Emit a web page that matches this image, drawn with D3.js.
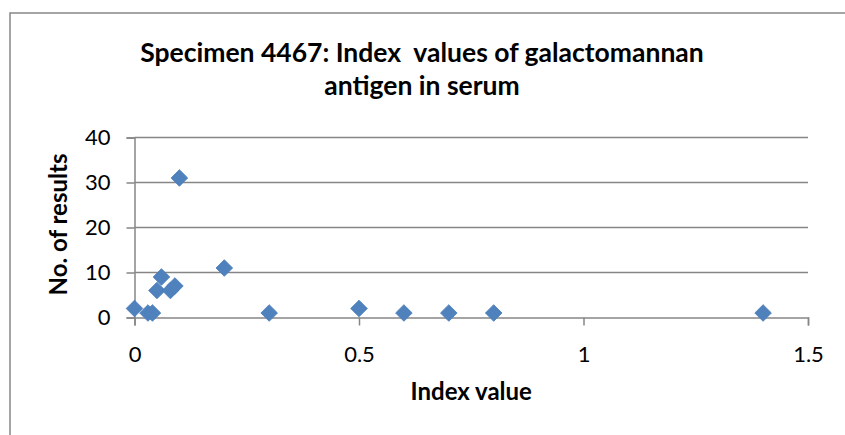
<!DOCTYPE html>
<html>
<head>
<meta charset="utf-8">
<script src="https://cdn.jsdelivr.net/npm/d3@7"></script>
<style>
  body { margin: 0; background: #fff; }
  text { font-family: Lato, "Open Sans", sans-serif; fill: #000; }
</style>
</head>
<body>
<div id="chart"></div>
<script>
// Index value (x) and number of results (y)
const indexValues = [0, 0.03, 0.04, 0.05, 0.06, 0.08, 0.09, 0.1, 0.2, 0.3, 0.5, 0.6, 0.7, 0.8, 1.4];
const resultCounts = [2, 1, 1, 6, 9, 6, 7, 31, 11, 1, 2, 1, 1, 1, 1];
const xTicks = [0, 0.5, 1, 1.5];
const yTicks = [0, 10, 20, 30, 40];
const titleLines = ["Specimen 4467: Index  values of galactomannan", "antigen in serum"];

const W = 845, H = 435;
const margin = { top: 137.5, right: 37, bottom: 117.5, left: 134.5 },
      width = W - margin.left - margin.right,
      height = H - margin.top - margin.bottom;

const data = indexValues.map((v, i) => ({ x: v, y: resultCounts[i] }));

const root = d3.select("#chart").append("svg")
    .attr("width", W)
    .attr("height", H);

// chart frame (runs off the right and bottom edges)
root.append("rect")
    .attr("x", 10).attr("y", 13)
    .attr("width", W + 20).attr("height", H + 20)
    .attr("fill", "none")
    .attr("stroke", "#868686")
    .attr("stroke-width", 1.5);

root.selectAll(".title")
    .data(titleLines)
    .enter().append("text")
    .attr("class", "title")
    .attr("x", 422)
    .attr("y", (d, i) => 62 + i * 33)
    .attr("text-anchor", "middle")
    .style("font-size", "26.5px")
    .style("font-weight", "bold")
    .style("white-space", "pre")
    .text(d => d);

const svg = root.append("g")
    .attr("transform", `translate(${margin.left},${margin.top})`);

const x = d3.scaleLinear().domain([0, 1.5]).range([0, width]);
const y = d3.scaleLinear().domain([0, 40]).range([height, 0]);

// gridlines
svg.selectAll(".grid")
    .data(yTicks.filter(t => t > 0))
    .enter().append("line")
    .attr("x1", 0).attr("x2", width)
    .attr("y1", d => y(d)).attr("y2", d => y(d))
    .attr("stroke", "#868686")
    .attr("stroke-width", 1.5);

const xAxis = svg.append("g")
    .attr("transform", `translate(0,${height})`)
    .call(d3.axisBottom(x).tickValues(xTicks).tickFormat(d3.format("")).tickSizeOuter(0).tickSize(8).tickPadding(21));

const yAxis = svg.append("g")
    .call(d3.axisLeft(y).tickValues(yTicks).tickSizeOuter(0).tickSize(8).tickPadding(16));

[xAxis, yAxis].forEach(a => {
  a.select(".domain").attr("stroke", "#868686").attr("stroke-width", 1.5);
  a.selectAll(".tick line").attr("stroke", "#868686").attr("stroke-width", 1.5);
  a.selectAll(".tick text").style("font-size", "22px").style("font-family", "Lato, sans-serif").attr("fill", "#000");
});

// diamond markers
svg.selectAll(".pt")
    .data(data)
    .enter().append("path")
    .attr("class", "pt")
    .attr("d", d3.symbol(d3.symbolSquare, 138))
    .attr("transform", d => `translate(${x(d.x)},${y(d.y)}) rotate(45)`)
    .attr("fill", "#4F81BD")
    .attr("stroke", "#4A7EBB")
    .attr("stroke-width", 0.8);

// axis titles
svg.append("text")
    .attr("x", width / 2)
    .attr("y", 400 - margin.top)
    .attr("text-anchor", "middle")
    .style("font-size", "24px")
    .style("font-weight", "bold")
    .text("Index value");

svg.append("text")
    .attr("transform", `translate(${67 - margin.left},${224.5 - margin.top}) rotate(-90)`)
    .attr("text-anchor", "middle")
    .style("font-size", "24px")
    .style("font-weight", "bold")
    .text("No. of results");
</script>
</body>
</html>
